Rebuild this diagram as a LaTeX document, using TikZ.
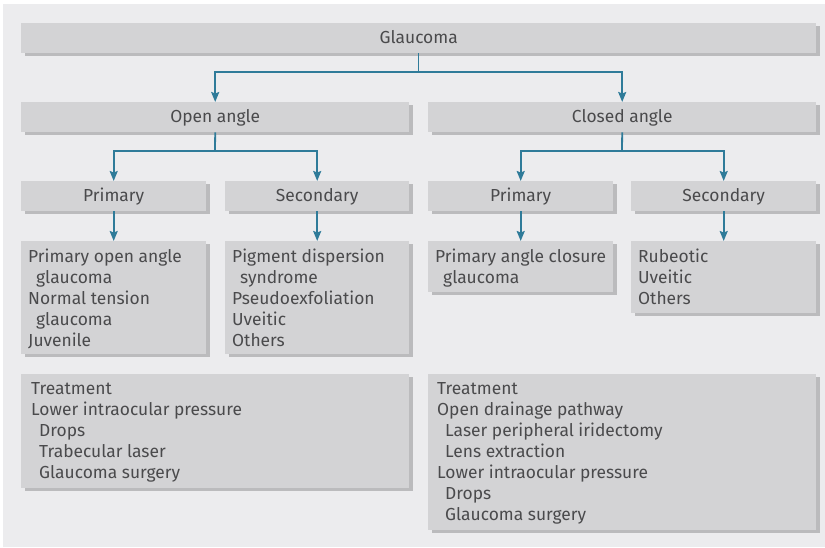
\documentclass[tikz,border=0pt]{standalone}
\usepackage{fontspec}
\setmainfont{Fira Sans}
\usetikzlibrary{arrows.meta,shadows}
\definecolor{bg}{HTML}{ECECEE}
\definecolor{boxfill}{HTML}{D3D3D5}
\definecolor{shade}{HTML}{BBBBBD}
\definecolor{txt}{HTML}{4A4A4C}
\definecolor{link}{HTML}{2F7B99}
\tikzset{
  box/.style={fill=boxfill, draw=none, inner sep=0pt, anchor=north west,
    drop shadow={shadow xshift=4pt, shadow yshift=-3pt, fill=shade, opacity=1}},
  lbl/.style={text=txt, font=\fontsize{17.4}{21}\selectfont, inner sep=0pt},
  head/.style={lbl, text height=12pt, text depth=2.5pt, yshift=-1pt},
  lst/.style={lbl, anchor=north west, align=left},
  conn/.style={draw=link, line width=1.8pt, -{Stealth[length=10pt,width=8pt,inset=1.5pt]}},
  plain/.style={draw=link, line width=1.8pt}
}
\newcommand{\ind}{\hspace*{8pt}}
\begin{document}
\begin{tikzpicture}[x=1pt,y=-1pt]
\useasboundingbox (0,0) rectangle (825,547);
\fill[white] (0,0) rectangle (825,547);
\fill[bg] (3,4) rectangle (825,547);
% boxes
\node[box, minimum width=795pt, minimum height=30pt] (g) at (21,23) {};
\node[box, minimum width=388pt, minimum height=30pt] (oa) at (21,102) {};
\node[box, minimum width=388pt, minimum height=30pt] (ca) at (428,102) {};
\node[box, minimum width=185pt, minimum height=30pt] (op) at (21,181) {};
\node[box, minimum width=184pt, minimum height=30pt] (os) at (225,181) {};
\node[box, minimum width=185pt, minimum height=30pt] (cp) at (428,181) {};
\node[box, minimum width=185pt, minimum height=30pt] (cs) at (631,181) {};
\node[box, minimum width=185pt, minimum height=113pt] (opl) at (21,241) {};
\node[box, minimum width=184pt, minimum height=113pt] (osl) at (225,241) {};
\node[box, minimum width=185pt, minimum height=51pt] (cpl) at (428,241) {};
\node[box, minimum width=185pt, minimum height=72pt] (csl) at (631,241) {};
\node[box, minimum width=388pt, minimum height=114pt] (ot) at (21,374) {};
\node[box, minimum width=388pt, minimum height=156pt] (ct) at (428,374) {};
% labels
\node[head] (gt) at (g.center) {Glaucoma};
\node[head] (oat) at (oa.center) {Open angle};
\node[head] (cat) at (ca.center) {Closed angle};
\node[head] (opt) at (op.center) {Primary};
\node[head] (ost) at (os.center) {Secondary};
\node[head] (cpt) at (cp.center) {Primary};
\node[head] (cst) at (cs.center) {Secondary};
\node[lst] (oplt) at ([xshift=7pt,yshift=-8pt]opl.north west) {Primary open angle\\\ind glaucoma\\Normal tension\\\ind glaucoma\\Juvenile};
\node[lst] (oslt) at ([xshift=7pt,yshift=-8pt]osl.north west) {Pigment dispersion\\\ind syndrome\\Pseudoexfoliation\\Uveitic\\Others};
\node[lst] (cplt) at ([xshift=7pt,yshift=-8pt]cpl.north west) {Primary angle closure\\\ind glaucoma};
\node[lst] (cslt) at ([xshift=7pt,yshift=-8pt]csl.north west) {Rubeotic\\Uveitic\\Others};
\node[lst] (ott) at ([xshift=10pt,yshift=-8pt]ot.north west) {Treatment\\Lower intraocular pressure\\\ind Drops\\\ind Trabecular laser\\\ind Glaucoma surgery};
\node[lst] (ctt) at ([xshift=9pt,yshift=-8pt]ct.north west) {Treatment\\Open drainage pathway\\\ind Laser peripheral iridectomy\\\ind Lens extraction\\Lower intraocular pressure\\\ind Drops\\\ind Glaucoma surgery};
% connectors
\coordinate (j1) at (418.5,72);
\coordinate (j2) at (215,151);
\coordinate (j3) at (622,151);
\draw[plain] (g.south -| j1) -- (j1);
\draw[conn] (j1) -| (oa.north);
\draw[conn] (j1) -| (ca.north);
\draw[plain] (oa.south) -- (j2);
\draw[conn] (j2) -| (op.north);
\draw[conn] (j2) -| (os.north);
\draw[plain] (ca.south) -- (j3);
\draw[conn] (j3) -| (cp.north);
\draw[conn] (j3) -| (cs.north);
\draw[conn] (op.south) -- (opl.north);
\draw[conn] (os.south) -- (osl.north);
\draw[conn] (cp.south) -- (cpl.north);
\draw[conn] (cs.south) -- (csl.north);
\end{tikzpicture}
\end{document}
